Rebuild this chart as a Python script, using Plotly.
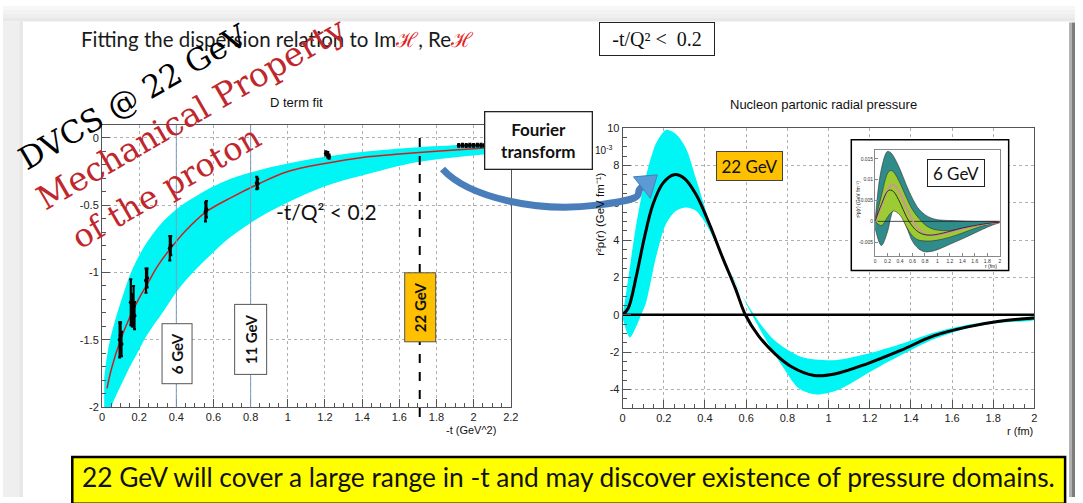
import plotly.graph_objects as go

W, H = 1083, 503

# ---------------- D-term fit (left panel) ----------------
fit_t = [0.027, 0.05, 0.1, 0.15, 0.2, 0.25, 0.3, 0.37, 0.45, 0.56, 0.7, 0.83, 1.0,
         1.2, 1.4, 1.6, 1.8, 2.0, 2.2]
fit_D = [-1.86, -1.72, -1.50, -1.33, -1.19, -1.07, -0.95, -0.82, -0.69, -0.55, -0.44,
         -0.35, -0.25, -0.19, -0.145, -0.12, -0.10, -0.08, -0.065]

band_t = [0.012, 0.027, 0.045, 0.08, 0.115, 0.15, 0.19, 0.24, 0.33, 0.42, 0.51, 0.6,
          0.68, 0.86, 1.0, 1.2, 1.4, 1.7, 2.0, 2.2]
band_hi = [-1.78, -1.62, -1.49, -1.31, -1.16, -1.02, -0.90, -0.78, -0.62, -0.51, -0.43,
           -0.36, -0.31, -0.235, -0.19, -0.14, -0.105, -0.07, -0.05, -0.04]
band_lo = [-2.3, -2.15, -2.02, -1.90, -1.80, -1.70, -1.60, -1.47, -1.29, -1.11, -0.97,
           -0.85, -0.75, -0.58, -0.48, -0.36, -0.28, -0.18, -0.13, -0.11]

pts_t = [0.095, 0.100, 0.105, 0.155, 0.163, 0.170, 0.175, 0.237, 0.243, 0.365, 0.370,
         0.557, 0.562, 0.833, 0.838, 1.205, 1.215, 1.222,
         1.92, 1.94, 1.96, 1.98, 2.00, 2.02, 2.04, 2.06]
pts_D = [-1.50, -1.47, -1.53, -1.22, -1.28, -1.25, -1.32, -1.06, -1.04, -0.82, -0.80,
         -0.55, -0.53, -0.335, -0.34, -0.115, -0.125, -0.14,
         -0.056, -0.055, -0.057, -0.055, -0.056, -0.054, -0.055, -0.056]
pts_err = [0.13, 0.10, 0.09, 0.17, 0.12, 0.15, 0.10, 0.09, 0.07, 0.09, 0.07,
           0.07, 0.06, 0.045, 0.035, 0.015, 0.02, 0.015,
           0.01, 0.01, 0.01, 0.01, 0.01, 0.01, 0.01, 0.01]

beam_lines = [0.4, 0.8]          # 6 GeV and 11 GeV reach in -t
reach_22 = 1.71                  # 22 GeV reach in -t

# ---------------- radial pressure (right panel) ----------------
r_curve = [0, 0.027, 0.067, 0.107, 0.147, 0.196, 0.25, 0.30, 0.356, 0.42, 0.484, 0.548,
           0.596, 0.66, 0.74, 0.82, 0.93, 1.03, 1.19, 1.35, 1.51, 1.67, 1.83, 2.0]
p_curve = [0, 0.35, 2.1, 4.2, 5.9, 7.05, 7.5, 7.3, 6.45, 4.9, 3.1, 1.4,
           0.0, -1.13, -2.09, -2.78, -3.25, -3.17, -2.61, -1.91, -1.13, -0.66, -0.35, -0.17]

r_hi = [0, 0.02, 0.067, 0.115, 0.163, 0.211, 0.26, 0.308, 0.356, 0.42, 0.5, 0.58, 0.66,
        0.74, 0.869, 1.03, 1.19, 1.35, 1.51, 1.67, 1.83, 2.0]
p_hi = [0, 1.4, 4.9, 7.5, 9.2, 9.9, 9.66, 8.9, 7.3, 5.05, 2.8, 1.04, -0.35,
        -1.39, -2.26, -2.43, -2.09, -1.57, -0.96, -0.55, -0.31, -0.12]
r_lo = [0, 0.035, 0.067, 0.09, 0.115, 0.163, 0.211, 0.26, 0.308, 0.356, 0.404, 0.468,
        0.548, 0.628, 0.708, 0.788, 0.853, 0.933, 1.03, 1.11, 1.19, 1.35, 1.51, 1.67,
        1.83, 2.0]
p_lo = [-0.2, -1.22, -0.6, 0.0, 0.7, 3.13, 4.88, 5.57, 5.74, 5.57, 4.88, 3.48,
        1.74, 0.0, -1.57, -2.96, -3.92, -4.26, -4.09, -3.66, -3.13, -2.17, -1.31, -0.73,
        -0.43, -0.26]
zero_r = [0, 2]

# ---------------- 6 GeV inset ----------------
ri = [0, 0.1, 0.2, 0.25, 0.3, 0.4, 0.5, 0.6, 0.7, 0.8, 0.9, 1.0, 1.2, 1.4, 1.6, 1.8, 2.0]
in_outer_hi = [0, 0.0125, 0.0168, 0.0165, 0.0155, 0.0125, 0.0088, 0.0055, 0.0030, 0.0016,
               0.0008, 0.0004, 0.0002, 0.0001, 0.0, 0.0, 0.0]
in_outer_lo = [-0.0015, -0.0058, -0.0025, 0.0008, 0.0027, 0.0020, -0.0012, -0.0048,
               -0.0066, -0.0073, -0.0072, -0.0068, -0.0055, -0.0042, -0.0028, -0.0014, -0.0003]
in_inner_hi = [0, 0.0060, 0.0115, 0.0122, 0.0118, 0.0092, 0.0058, 0.0028, 0.0008,
               -0.0008, -0.0017, -0.0021, -0.0022, -0.0017, -0.0011, -0.0006, -0.0002]
in_inner_lo = [0, -0.0010, 0.0010, 0.0020, 0.0025, 0.0015, -0.0012, -0.0035, -0.0045,
               -0.0047, -0.0047, -0.0045, -0.0038, -0.0028, -0.0017, -0.0008, -0.0003]
in_central = [0, 0.0040, 0.0072, 0.0075, 0.0071, 0.0045, 0.0012, -0.0012, -0.0026,
              -0.0032, -0.0033, -0.0031, -0.0024, -0.0016, -0.0010, -0.0005, -0.0002]
in_alt = [0, 0.0035, 0.0075, 0.0086, 0.0088, 0.0068, 0.0034, 0.0003, -0.0019,
          -0.0030, -0.0034, -0.0033, -0.0026, -0.0018, -0.0011, -0.0006, -0.0002]


def PX(x):
    return x / W


def PY(y):
    return 1 - y / H


CYAN = "#00F5F5"
fig = go.Figure()

# left panel: uncertainty band, fit and extracted points
fig.add_trace(go.Scatter(x=band_t, y=band_lo, mode="lines", line=dict(width=0, shape="spline"),
                         xaxis="x", yaxis="y", hoverinfo="skip"))
fig.add_trace(go.Scatter(x=band_t, y=band_hi, mode="lines", line=dict(width=0, shape="spline"),
                         fill="tonexty", fillcolor=CYAN, xaxis="x", yaxis="y"))
fig.add_trace(go.Scatter(x=fit_t, y=fit_D, mode="lines",
                         line=dict(color="#CC2020", width=1.5, shape="spline"),
                         xaxis="x", yaxis="y"))
fig.add_trace(go.Scatter(x=pts_t, y=pts_D, mode="markers",
                         marker=dict(color="black", size=4),
                         error_y=dict(type="data", array=pts_err, color="black",
                                      thickness=2.2, width=1.5),
                         xaxis="x", yaxis="y"))

# right panel: band, pressure curve, zero line
fig.add_trace(go.Scatter(x=r_hi + r_lo[::-1], y=p_hi + p_lo[::-1], mode="lines",
                         fill="toself", fillcolor=CYAN,
                         line=dict(width=0, shape="spline", smoothing=0.8),
                         xaxis="x2", yaxis="y2"))
fig.add_trace(go.Scatter(x=r_curve, y=p_curve, mode="lines",
                         line=dict(color="black", width=3, shape="spline"),
                         xaxis="x2", yaxis="y2"))
fig.add_trace(go.Scatter(x=zero_r, y=[0, 0], mode="lines",
                         line=dict(color="black", width=2.5), xaxis="x2", yaxis="y2"))

# inset frame (own opaque background) and inset plot
fig.add_trace(go.Scatter(x=[None], y=[None], xaxis="x3", yaxis="y3"))
fig.add_trace(go.Scatter(x=ri, y=in_outer_lo, mode="lines",
                         line=dict(color="#333", width=0.6, shape="spline"),
                         xaxis="x4", yaxis="y4"))
fig.add_trace(go.Scatter(x=ri, y=in_outer_hi, mode="lines", fill="tonexty",
                         fillcolor="#2F8C8A", line=dict(color="#333", width=0.6, shape="spline"),
                         xaxis="x4", yaxis="y4"))
fig.add_trace(go.Scatter(x=ri, y=in_inner_lo, mode="lines",
                         line=dict(color="#333", width=0.6, shape="spline"),
                         xaxis="x4", yaxis="y4"))
fig.add_trace(go.Scatter(x=ri, y=in_inner_hi, mode="lines", fill="tonexty",
                         fillcolor="#9CCB34", line=dict(color="#333", width=0.6, shape="spline"),
                         xaxis="x4", yaxis="y4"))
fig.add_trace(go.Scatter(x=[0, 2], y=[0, 0], mode="lines", line=dict(color="#222", width=0.8),
                         xaxis="x4", yaxis="y4"))
fig.add_trace(go.Scatter(x=ri, y=in_alt, mode="lines",
                         line=dict(color="#D98AA8", width=1.6, shape="spline"),
                         xaxis="x4", yaxis="y4"))
fig.add_trace(go.Scatter(x=ri, y=in_central, mode="lines",
                         line=dict(color="#222", width=0.9, shape="spline"),
                         xaxis="x4", yaxis="y4"))

TICKFONT = dict(family="Liberation Sans, Arial", size=11, color="#222")
common = dict(showline=True, mirror=True, linecolor="#555", linewidth=1,
              ticks="inside", tickcolor="#555", tickfont=TICKFONT,
              showgrid=True, gridcolor="#b0b0b0", griddash="dot", gridwidth=1,
              zeroline=False, fixedrange=True)


def num_labels(vals):
    return ["%g" % v for v in vals]


lx = [round(0.2 * i, 1) for i in range(12)]
ly = [-2, -1.5, -1, -0.5, 0]
rx = [round(0.2 * i, 1) for i in range(11)]
ry = [-4, -2, 0, 2, 4, 6, 8, 10]

fig.update_layout(
    xaxis=dict(domain=[PX(100), PX(513)], range=[0, 2.2], anchor="y",
               tickmode="array", tickvals=lx, ticktext=num_labels(lx), ticklen=8,
               minor=dict(ticks="inside", ticklen=4, dtick=0.05, tick0=0, tickcolor="#555",
                          showgrid=False), **common),
    yaxis=dict(domain=[PY(411), PY(122)], range=[-2, 0.095], anchor="x",
               tickmode="array", tickvals=ly, ticktext=num_labels(ly), ticklen=8,
               minor=dict(ticks="inside", ticklen=4, dtick=0.1, tick0=0, tickcolor="#555",
                          showgrid=False), **common),
    xaxis2=dict(domain=[PX(626), PX(1042)], range=[0, 2], anchor="y2",
                tickmode="array", tickvals=rx, ticktext=num_labels(rx), ticklen=8,
                minor=dict(ticks="inside", ticklen=4, dtick=0.05, tick0=0, tickcolor="#555",
                           showgrid=False), **common),
    yaxis2=dict(domain=[PY(412), PY(125)], range=[-5, 10], anchor="x2",
                tickmode="array", tickvals=ry, ticktext=num_labels(ry), ticklen=8,
                minor=dict(ticks="inside", ticklen=4, dtick=0.5, tick0=0, tickcolor="#555",
                           showgrid=False), **common),
    xaxis3=dict(domain=[PX(857), PX(1016)], range=[0, 1], anchor="y3", visible=False,
                fixedrange=True),
    yaxis3=dict(domain=[PY(271), PY(137)], range=[0, 1], anchor="x3", visible=False,
                fixedrange=True),
    xaxis4=dict(domain=[PX(881), PX(1007)], range=[0, 2], anchor="y4",
                showline=True, mirror=True, linecolor="#888", linewidth=0.8,
                ticks="inside", ticklen=3, tickcolor="#888", showgrid=False, zeroline=False,
                tickmode="array", tickvals=rx, ticktext=num_labels(rx),
                tickfont=dict(family="Liberation Sans", size=5, color="#333"), fixedrange=True),
    yaxis4=dict(domain=[PY(256.5), PY(148)], range=[-0.0084, 0.017], anchor="x4",
                showline=True, mirror=True, linecolor="#888", linewidth=0.8,
                ticks="inside", ticklen=3, tickcolor="#888", showgrid=False, zeroline=False,
                tickmode="array", tickvals=[-0.005, 0, 0.005, 0.01, 0.015],
                ticktext=["-0.005", "0", "0.005", "0.01", "0.015"],
                tickfont=dict(family="Liberation Sans", size=5, color="#333"), fixedrange=True),
    width=W, height=H, margin=dict(l=0, r=0, t=0, b=0),
    paper_bgcolor="white", plot_bgcolor="white",
    showlegend=False, hovermode=False,
)

shapes = []
# slide edges
for i, c in enumerate(["#f7f7f7", "#f3f3f3", "#eeeeee", "#e8e8e8"]):
    shapes.append(dict(type="rect", xref="paper", yref="paper", x0=0, x1=1,
                       y0=PY(4 * (i + 1)), y1=PY(4 * i), fillcolor=c, line_width=0,
                       layer="below"))
shapes.append(dict(type="rect", xref="paper", yref="paper", x0=0, x1=PX(20),
                   y0=0, y1=PY(16), fillcolor="#efefef", line_width=0, layer="below"))
shapes.append(dict(type="rect", xref="paper", yref="paper", x0=PX(17), x1=PX(20),
                   y0=0, y1=PY(16), fillcolor="#e6e6e6", line_width=0, layer="below"))
shapes.append(dict(type="rect", xref="paper", yref="paper", x0=PX(1077), x1=PX(1080),
                   y0=0, y1=PY(17), fillcolor="#b0b0b0", line_width=0, layer="below"))
shapes.append(dict(type="rect", xref="paper", yref="paper", x0=PX(1080), x1=1,
                   y0=0, y1=PY(17), fillcolor="#7c7c7c", line_width=0, layer="below"))

# beam-energy reach lines in the left panel
for xv in beam_lines:
    shapes.append(dict(type="line", xref="x", yref="y domain", x0=xv, x1=xv, y0=0, y1=1,
                       line=dict(color="#7E9EC0", width=1)))
shapes.append(dict(type="line", xref="x", yref="paper", x0=reach_22, x1=reach_22,
                   y0=PY(421), y1=PY(134.7), line=dict(color="black", width=2, dash="dash")))

# inset frame
shapes.append(dict(type="rect", xref="x3 domain", yref="y3 domain", x0=0, x1=1, y0=0, y1=1,
                   line=dict(color="black", width=1.5)))

# bottom message box
shapes.append(dict(type="rect", xref="paper", yref="paper", x0=PX(70), x1=PX(1073),
                   y0=PY(510), y1=PY(462), fillcolor="#FFFF00",
                   line=dict(color="black", width=2.5)))


# curved blue arrow from the fit to the pressure plot
def pt(x, y):
    return "%.5f,%.5f" % (PX(x), PY(y))


shaft = ("M" + pt(444, 167) + " C" + pt(470, 196) + " " + pt(540, 212) + " " + pt(600, 204)
         + " S" + pt(634, 193) + " " + pt(646, 185))
shapes.append(dict(type="path", xref="paper", yref="paper", path=shaft,
                   line=dict(color="#4A7EBB", width=7)))
head = "M" + pt(661, 173) + " L" + pt(637, 175) + " L" + pt(654, 197) + " Z"
shapes.append(dict(type="path", xref="paper", yref="paper", path=head,
                   fillcolor="#5B9BD5", line=dict(color="#4A7EBB", width=1)))
fig.update_layout(shapes=shapes)

SLIDE = "Lato, Open Sans, sans-serif"
ROOTF = "Liberation Sans, Arial"
ann = []


def text(x, y, s, size, color="#111", family=SLIDE, xanchor="center", angle=0, **kw):
    ann.append(dict(x=PX(x), y=PY(y), xref="paper", yref="paper", text=s, showarrow=False,
                    xanchor=xanchor, yanchor="middle", textangle=angle,
                    font=dict(family=family, size=size, color=color), **kw))


text(77, 34, "Fitting the dispersion relation to Im<span style='color:#E02020'>ℋ</span>, "
             "Re<span style='color:#E02020'>ℋ</span>", 20.5, color="#1a1a1a", xanchor="left")
text(660.5, 33.5, "-t/Q² <  0.2", 20, family="Liberation Serif, DejaVu Serif",
     bgcolor="white", bordercolor="#222", borderwidth=1, width=112, height=30)
text(297, 99, "D term fit", 13, family=ROOTF)
text(829, 101, "Nucleon partonic radial pressure", 13, family=ROOTF)
text(327, 211, "-t/Q² < 0.2", 21)
text(540.5, 138, "<b>Fourier<br>transform</b>", 17, bgcolor="white", bordercolor="#222",
     borderwidth=1.3, width=104, height=54)
text(500, 434, "-t (GeV^2)", 11, family=ROOTF, xanchor="right")
text(1043, 435, "r (fm)", 11, family=ROOTF, xanchor="right")
text(603, 213, "r²p(r) (GeV fm⁻¹)", 11.5, family=ROOTF, angle=-90)
text(607, 148, "10<sup>-3</sup>", 10, family=ROOTF)
text(754, 163.5, "22 GeV", 17, bgcolor="#FFC000", bordercolor="#444", borderwidth=1,
     width=63, height=26)
text(963, 170.7, "6 GeV", 17, bgcolor="white", bordercolor="#222", borderwidth=1,
     width=54, height=24)
text(864, 198, "r²p(r) (GeV fm⁻¹)", 5, family=ROOTF, angle=-90)
text(1006, 266, "r (fm)", 5, family=ROOTF, xanchor="right")

# beam-energy boxes in the left panel
for lbl, xv, yv, L, T, bg in [("6 GeV", 0.403, -1.60, 57, 27, "white"),
                              ("11 GeV", 0.802, -1.50, 67, 29, "white"),
                              ("22 GeV", reach_22, -1.26, 66, 28, "#FFC000")]:
    ann.append(dict(x=xv, y=yv, xref="x", yref="y", text="<b>%s</b>" % lbl, showarrow=False,
                    textangle=-90, xanchor="center", yanchor="middle", width=L, height=T,
                    bgcolor=bg, bordercolor="#555", borderwidth=1,
                    font=dict(family=SLIDE, size=15, color="#111")))

# slanted headline
STAMP = "DejaVu Serif, Liberation Serif, serif"
text(131, 93, "DVCS @ 22 GeV", 31, color="black", family=STAMP, angle=-30)
text(190, 110, "Mechanical Property", 33, color="#C0272D", family=STAMP, angle=-30)
text(165, 185, "of the proton", 32, color="#C0272D", family=STAMP, angle=-30)

text(571, 483, "22 GeV will cover a large range in -t and may discover existence of "
               "pressure domains.", 26.3, color="#111")

fig.update_layout(annotations=ann)
fig.write_html("out.html")
